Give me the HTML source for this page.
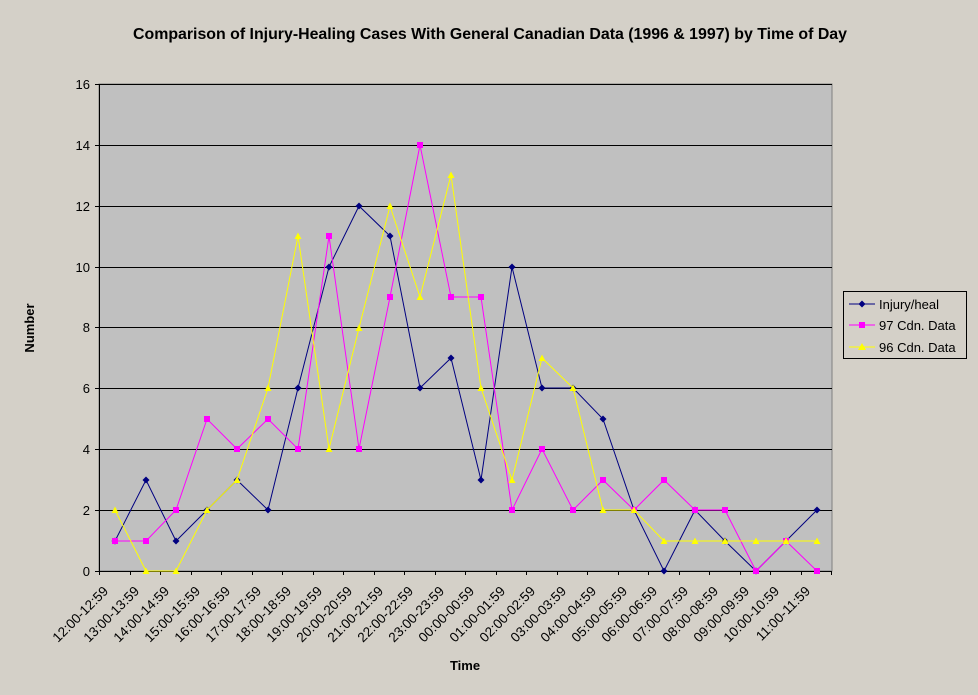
<!DOCTYPE html>
<html><head><meta charset="utf-8"><style>
body{margin:0;background:#d4d0c8}
svg{display:block;font-family:"Liberation Sans",Arial,sans-serif}
</style></head><body>
<svg width="978" height="695" viewBox="0 0 978 695">
<defs>
<marker id="d" markerUnits="userSpaceOnUse" markerWidth="10" markerHeight="10" refX="5" refY="5"><path d="M5 1.5L8.5 5L5 8.5L1.5 5Z" fill="#000080"/></marker>
<marker id="s" markerUnits="userSpaceOnUse" markerWidth="10" markerHeight="10" refX="5" refY="5"><rect x="2" y="2" width="6" height="6" fill="#ff00ff"/></marker>
<marker id="t" markerUnits="userSpaceOnUse" markerWidth="10" markerHeight="10" refX="5" refY="5"><path d="M5 1.5L8.5 8L1.5 8Z" fill="#ffff00"/></marker>
</defs>
<rect width="978" height="695" fill="#d4d0c8"/>
<rect x="99" y="84" width="733" height="487" fill="#c0c0c0" stroke="#808080"/>
<g stroke="#000" stroke-width="1">
<line x1="99" y1="510.5" x2="832" y2="510.5"/><line x1="99" y1="449.5" x2="832" y2="449.5"/><line x1="99" y1="388.5" x2="832" y2="388.5"/><line x1="99" y1="327.5" x2="832" y2="327.5"/><line x1="99" y1="267.5" x2="832" y2="267.5"/><line x1="99" y1="206.5" x2="832" y2="206.5"/><line x1="99" y1="145.5" x2="832" y2="145.5"/><line x1="99" y1="84.5" x2="832" y2="84.5"/>
<line x1="99.5" y1="84" x2="99.5" y2="575"/><line x1="95" y1="571.5" x2="832" y2="571.5"/>
<line x1="95" y1="510.5" x2="99" y2="510.5"/><line x1="95" y1="449.5" x2="99" y2="449.5"/><line x1="95" y1="388.5" x2="99" y2="388.5"/><line x1="95" y1="327.5" x2="99" y2="327.5"/><line x1="95" y1="267.5" x2="99" y2="267.5"/><line x1="95" y1="206.5" x2="99" y2="206.5"/><line x1="95" y1="145.5" x2="99" y2="145.5"/><line x1="95" y1="84.5" x2="99" y2="84.5"/>
<path d="M130.5 571v4M160.5 571v4M191.5 571v4M221.5 571v4M252.5 571v4M282.5 571v4M313.5 571v4M343.5 571v4M374.5 571v4M404.5 571v4M435.5 571v4M465.5 571v4M496.5 571v4M526.5 571v4M557.5 571v4M587.5 571v4M618.5 571v4M648.5 571v4M679.5 571v4M709.5 571v4M740.5 571v4M770.5 571v4M801.5 571v4M831.5 571v4"/>
</g>
<g font-size="13" text-anchor="end">
<text x="90" y="576">0</text><text x="90" y="515">2</text><text x="90" y="454">4</text><text x="90" y="393">6</text><text x="90" y="332">8</text><text x="90" y="272">10</text><text x="90" y="211">12</text><text x="90" y="150">14</text><text x="90" y="89">16</text>
</g>
<polyline fill="none" stroke="#000080" stroke-width="1" marker-start="url(#d)" marker-mid="url(#d)" marker-end="url(#d)" points="115,541 146,480 176,541 207,510 237,480 268,510 298,388 329,267 359,206 390,236 420,388 451,358 481,480 512,267 542,388 573,388 603,419 634,510 664,571 695,510 725,541 756,571 786,541 817,510"/>
<polyline fill="none" stroke="#ff00ff" stroke-width="1" marker-start="url(#s)" marker-mid="url(#s)" marker-end="url(#s)" points="115,541 146,541 176,510 207,419 237,449 268,419 298,449 329,236 359,449 390,297 420,145 451,297 481,297 512,510 542,449 573,510 603,480 634,510 664,480 695,510 725,510 756,571 786,541 817,571"/>
<polyline fill="none" stroke="#ffff00" stroke-width="1" marker-start="url(#t)" marker-mid="url(#t)" marker-end="url(#t)" points="115,510 146,571 176,571 207,510 237,480 268,388 298,236 329,449 359,328 390,206 420,297 451,175 481,388 512,480 542,358 573,388 603,510 634,510 664,541 695,541 725,541 756,541 786,541 817,541"/>
<g font-size="13.5" text-anchor="end">
<text transform="translate(109,592) rotate(-45)">12:00-12:59</text>
<text transform="translate(140,592) rotate(-45)">13:00-13:59</text>
<text transform="translate(170,592) rotate(-45)">14:00-14:59</text>
<text transform="translate(201,592) rotate(-45)">15:00-15:59</text>
<text transform="translate(231,592) rotate(-45)">16:00-16:59</text>
<text transform="translate(262,592) rotate(-45)">17:00-17:59</text>
<text transform="translate(292,592) rotate(-45)">18:00-18:59</text>
<text transform="translate(323,592) rotate(-45)">19:00-19:59</text>
<text transform="translate(353,592) rotate(-45)">20:00-20:59</text>
<text transform="translate(384,592) rotate(-45)">21:00-21:59</text>
<text transform="translate(414,592) rotate(-45)">22:00-22:59</text>
<text transform="translate(445,592) rotate(-45)">23:00-23:59</text>
<text transform="translate(475,592) rotate(-45)">00:00-00:59</text>
<text transform="translate(506,592) rotate(-45)">01:00-01:59</text>
<text transform="translate(536,592) rotate(-45)">02:00-02:59</text>
<text transform="translate(567,592) rotate(-45)">03:00-03:59</text>
<text transform="translate(597,592) rotate(-45)">04:00-04:59</text>
<text transform="translate(628,592) rotate(-45)">05:00-05:59</text>
<text transform="translate(658,592) rotate(-45)">06:00-06:59</text>
<text transform="translate(689,592) rotate(-45)">07:00-07:59</text>
<text transform="translate(719,592) rotate(-45)">08:00-08:59</text>
<text transform="translate(750,592) rotate(-45)">09:00-09:59</text>
<text transform="translate(780,592) rotate(-45)">10:00-10:59</text>
<text transform="translate(811,592) rotate(-45)">11:00-11:59</text>
</g>
<text x="490" y="39" font-size="15.9" font-weight="bold" text-anchor="middle">Comparison of Injury-Healing Cases With General Canadian Data (1996 &amp; 1997) by Time of Day</text>
<text x="465" y="670" font-size="13" font-weight="bold" text-anchor="middle">Time</text>
<text transform="translate(34,328) rotate(-90)" font-size="13" font-weight="bold" text-anchor="middle">Number</text>
<rect x="843.5" y="291.5" width="123" height="67" fill="#d4d0c8" stroke="#000"/>
<line x1="849" y1="304" x2="875" y2="304" stroke="#000080"/><path d="M862 300.5L865.5 304L862 307.5L858.5 304Z" fill="#000080"/>
<line x1="849" y1="325" x2="875" y2="325" stroke="#ff00ff"/><rect x="859" y="322" width="6" height="6" fill="#ff00ff"/>
<line x1="849" y1="347" x2="875" y2="347" stroke="#ffff00"/><path d="M862 343L866 350L858 350Z" fill="#ffff00"/>
<g font-size="13"><text x="879" y="309">Injury/heal</text><text x="879" y="330">97 Cdn. Data</text><text x="879" y="352">96 Cdn. Data</text></g>
</svg>
</body></html>
